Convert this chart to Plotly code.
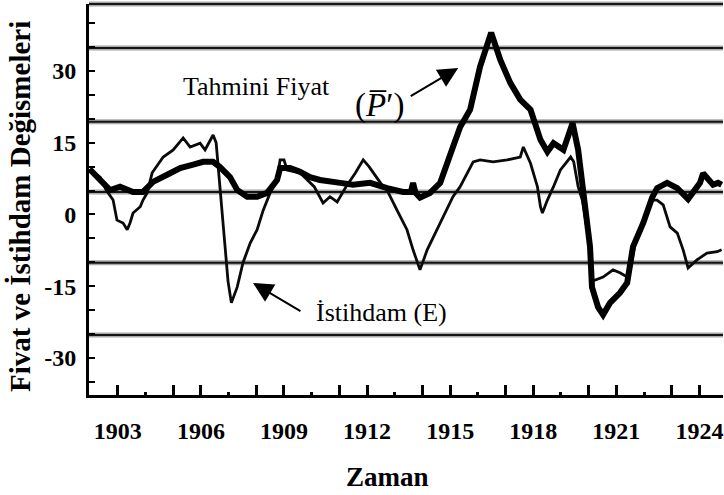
import plotly.graph_objects as go

# ---- Data ----
# Thick line: Tahmini Fiyat (P')
years_p = [1901.98, 1902.11, 1902.36, 1902.72, 1903.08, 1903.55, 1903.91, 1904.27, 1904.78,
           1905.25, 1905.72, 1906.08, 1906.44, 1906.69, 1907.05, 1907.31, 1907.67, 1908.03,
           1908.39, 1908.75, 1908.86, 1909.22, 1909.58, 1909.94, 1910.30, 1910.66, 1911.03,
           1911.49, 1912.11, 1912.72, 1913.30, 1913.58, 1913.66, 1913.75, 1913.91, 1914.27,
           1914.64, 1915.10, 1915.36, 1915.72, 1916.08, 1916.48, 1916.81, 1917.17, 1917.53,
           1917.90, 1918.26, 1918.51, 1918.73, 1919.09, 1919.42, 1919.62, 1919.80, 1920.05,
           1920.12, 1920.34, 1920.52, 1920.77, 1921.13, 1921.39, 1921.60, 1921.97, 1922.29,
           1922.47, 1922.83, 1923.05, 1923.20, 1923.59, 1923.77, 1924.02, 1924.13, 1924.38,
           1924.49, 1924.67, 1924.80]
price = [9.5, 8.7, 7.2, 5.1, 5.8, 4.7, 4.7, 6.8, 8.3,
         9.7, 10.4, 11.0, 11.0, 9.9, 7.8, 5.1, 3.7, 3.7,
         4.5, 7.2, 9.7, 9.7, 8.9, 7.8, 7.2, 6.8, 6.6,
         6.2, 6.6, 5.5, 4.7, 4.7, 6.6, 4.5, 3.5, 4.5,
         6.6, 14.1, 18.3, 21.9, 30.9, 38.0, 32.3, 27.5, 24.0,
         21.9, 15.6, 13.1, 14.9, 13.5, 19.1, 13.5, 4.5, -6.8,
         -15.2, -19.4, -21.0, -18.5, -16.4, -14.3, -6.8, -1.8, 3.5,
         5.5, 6.6, 5.8, 5.5, 3.2, 4.5, 6.6, 8.6, 6.6,
         6.2, 6.6, 6.2]

# Thin line: İstihdam (E)
years_e = [1901.98, 1902.36, 1902.58, 1902.83, 1902.97, 1903.19, 1903.34, 1903.44, 1903.55,
           1903.81, 1903.91, 1904.06, 1904.24, 1904.64, 1905.00, 1905.36, 1905.61, 1905.97,
           1906.15, 1906.44, 1906.55, 1906.72, 1906.85, 1906.98, 1907.10, 1907.31, 1907.52,
           1907.78, 1908.03, 1908.25, 1908.50, 1908.75, 1908.86, 1909.00, 1909.11, 1909.58,
           1910.09, 1910.41, 1910.66, 1910.92, 1911.24, 1911.57, 1911.86, 1912.07, 1912.58,
           1912.72, 1913.08, 1913.44, 1913.66, 1913.91, 1914.17, 1914.53, 1914.89, 1915.10,
           1915.36, 1915.83, 1916.08, 1916.55, 1917.06, 1917.53, 1917.64, 1917.90, 1918.15,
           1918.26, 1918.33, 1918.51, 1918.73, 1918.98, 1919.35, 1919.46, 1919.62, 1919.77,
           1920.05, 1920.12, 1920.52, 1920.88, 1921.13, 1921.39, 1921.50, 1921.68, 1921.97,
           1922.29, 1922.47, 1922.69, 1922.94, 1923.20, 1923.41, 1923.59, 1923.91, 1924.27,
           1924.64, 1924.80]
employment = [9.3, 7.8, 5.1, 3.0, -1.2, -1.8, -3.2, -1.8, 0.3,
              1.6, 3.0, 4.5, 8.7, 12.0, 13.5, 16.0, 14.1, 14.9,
              13.5, 16.6, 15.0, 4.0, -6.0, -14.0, -18.5, -15.2, -10.1,
              -6.0, -3.2, 0.9, 4.5, 7.2, 11.4, 11.4, 9.3, 8.7,
              5.8, 2.4, 3.7, 2.6, 5.8, 8.6, 11.4, 10.0, 5.8,
              5.1, 0.9, -3.2, -7.4, -11.6, -7.4, -3.2, 0.9, 3.7,
              5.8, 11.0, 11.4, 11.0, 11.4, 12.0, 14.1, 10.7, 5.8,
              1.6, 0.3, 3.0, 5.8, 9.3, 12.0, 11.0, 5.8, 3.0,
              -6.8, -14.0, -13.1, -11.6, -12.2, -13.1, -11.6, -6.0, -1.8,
              3.0, 3.0, 2.0, -2.6, -3.9, -7.4, -11.2, -9.5, -8.1,
              -7.8, -7.4]

y_tick_vals = list(range(-35, 45, 5))
y_label_vals = [30, 15, 0, -15, -30]
x_label_years = [1903, 1906, 1909, 1912, 1915, 1918, 1921, 1924]
x_minor_years = [1904, 1907, 1910, 1913, 1916, 1919, 1922]
x_major_years = [y for y in range(1903, 1925) if y not in x_minor_years]
grid_values = [34.8, 19.4, 4.7, -10.1, -25.2]

SERIF = "Liberation Serif, Times New Roman, serif"

fig = go.Figure()
fig.add_trace(go.Scatter(x=years_e, y=employment, mode="lines",
                         line=dict(color="#0a0a0a", width=2.8), name="İstihdam (E)"))
fig.add_trace(go.Scatter(x=years_p, y=price, mode="lines",
                         line=dict(color="#000000", width=6), name="Tahmini Fiyat"))

shapes = []
for g in grid_values + [None]:
    if g is None:
        yref, y0 = "paper", 1
    else:
        yref, y0 = "y", g
    shapes.append(dict(type="line", xref="paper", x0=0, x1=1, yref=yref, y0=y0, y1=y0,
                       line=dict(color="#a8a8a8", width=5), layer="below"))
    shapes.append(dict(type="line", xref="paper", x0=0, x1=1, yref=yref, y0=y0, y1=y0,
                       line=dict(color="#151515", width=2), layer="below"))

annotations = [
    dict(text="Tahmini Fiyat", x=1907.99, y=26.7, xref="x", yref="y", showarrow=False,
         font=dict(family=SERIF, size=26, color="#000")),
    dict(text="(<i>P\u0305</i>\u2032)", x=1912.45, y=22.7, xref="x", yref="y", showarrow=False,
         font=dict(family=SERIF, size=33, color="#000")),
    dict(text="İstihdam (E)", x=1912.53, y=-20.6, xref="x", yref="y", showarrow=False,
         font=dict(family=SERIF, size=26, color="#000")),
    dict(text="", x=1915.29, y=30.6, xref="x", yref="y", showarrow=True, ax=-49, ay=29,
         arrowhead=2, arrowsize=2, arrowwidth=2, arrowcolor="#000", standoff=0),
    dict(text="", x=1907.88, y=-14.33, xref="x", yref="y", showarrow=True, ax=49, ay=29,
         arrowhead=2, arrowsize=2, arrowwidth=2, arrowcolor="#000", standoff=0),
    dict(text="Zaman", x=0.471, y=-0.209, xref="paper", yref="paper", showarrow=False,
         xanchor="center", yanchor="middle",
         font=dict(family=SERIF, size=27, color="#000", weight="bold")),
    dict(text="Fivat ve İstihdam Değismeleri", x=-0.109, y=0.483, xref="paper", yref="paper",
         showarrow=False, textangle=-90, xanchor="center", yanchor="middle",
         font=dict(family=SERIF, size=29, color="#000", weight="bold")),
]

fig.update_layout(
    width=724, height=495,
    margin=dict(l=89, r=1, t=4, b=100, autoexpand=False),
    paper_bgcolor="white", plot_bgcolor="white",
    showlegend=False,
    shapes=shapes,
    annotations=annotations,
    xaxis=dict(
        range=[1901.96, 1924.85],
        automargin=False,
        showgrid=False, zeroline=False,
        showline=True, linecolor="#000", linewidth=3,
        tickmode="array", tickvals=x_major_years,
        ticktext=[str(y) if y in x_label_years else "" for y in x_major_years],
        ticks="inside", ticklen=10, tickwidth=2.5, tickcolor="#000",
        ticklabelstandoff=12,
        tickfont=dict(family=SERIF, size=24, color="#000", weight="bold"),
        minor=dict(tickmode="array", tickvals=x_minor_years, ticks="inside",
                   ticklen=3, tickwidth=3, tickcolor="#000"),
    ),
    yaxis=dict(
        range=[-37.76, 44.0],
        automargin=False,
        showgrid=False, zeroline=False,
        showline=True, linecolor="#000", linewidth=3,
        tickmode="array", tickvals=y_tick_vals,
        ticktext=[str(v) if v in y_label_vals else "" for v in y_tick_vals],
        ticks="inside", ticklen=6, tickwidth=2, tickcolor="#000",
        ticklabelstandoff=5,
        tickfont=dict(family=SERIF, size=24, color="#000", weight="bold"),
    ),
)

# remove the browser's default 8px page margin so the figure sits at the window's corner
fig.write_html("out.html", config={"displayModeBar": False},
               post_script="document.body.style.margin='0px';")
